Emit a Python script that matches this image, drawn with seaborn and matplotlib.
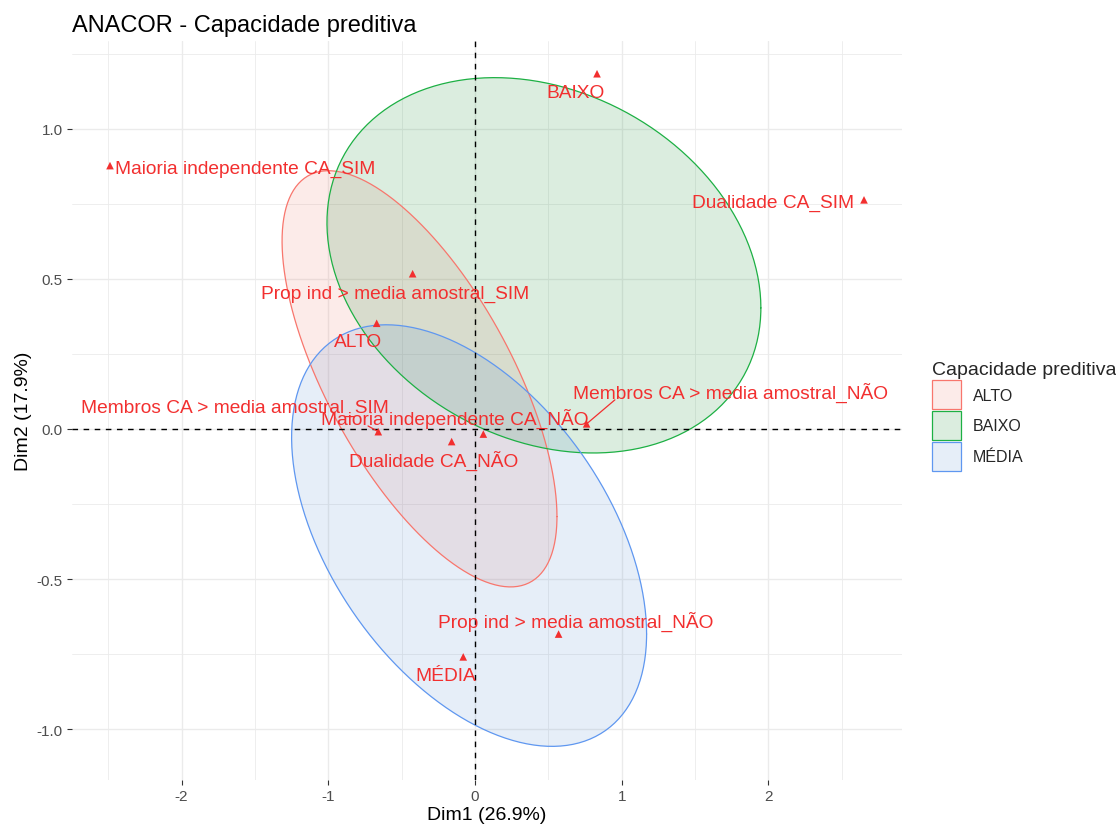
import numpy as np
import pandas as pd
import matplotlib
matplotlib.use("Agg")
import matplotlib.pyplot as plt
import seaborn as sns
from matplotlib.patches import Patch

# ---------------- data ----------------
title = "ANACOR - Capacidade preditiva"
x_label = "Dim1 (26.9%)"
y_label = "Dim2 (17.9%)"
legend_title = "Capacidade preditiva"

point_names = [
    "BAIXO",
    "Maioria independente CA_SIM",
    "Dualidade CA_SIM",
    "Prop ind > media amostral_SIM",
    "ALTO",
    "Membros CA > media amostral_NÃO",
    "Membros CA > media amostral_SIM",
    "Dualidade CA_NÃO",
    "Maioria independente CA_NÃO",
    "Prop ind > media amostral_NÃO",
    "MÉDIA",
]
dim1 = [0.832, -2.488, 2.652, -0.425, -0.670, 0.761, -0.659, -0.159, 0.057, 0.570, -0.080]
dim2 = [1.183, 0.877, 0.763, 0.517, 0.352, 0.017, -0.009, -0.042, -0.017, -0.683, -0.759]

groups = ["ALTO", "BAIXO", "MÉDIA"]
ell_center_x = [-0.378, 0.470, -0.040]
ell_center_y = [0.167, 0.545, -0.355]
ell_half_x = [0.937, 1.479, 1.210]
ell_half_y = [0.693, 0.625, 0.702]
ell_corr = [-0.662, -0.227, -0.467]

x_ticks = [-2, -1, 0, 1, 2]
y_ticks = [-1.0, -0.5, 0.0, 0.5, 1.0]
y_tick_labels = ["-1.0", "-0.5", "0.0", "0.5", "1.0"]

# ---------------- layout (label placement, repel-like) ----------------
label_offsets = {
    "BAIXO": (-0.145, -0.064),
    "Maioria independente CA_SIM": (0.924, -0.010),
    "Dualidade CA_SIM": (-0.617, -0.010),
    "Prop ind > media amostral_SIM": (-0.120, -0.064),
    "ALTO": (-0.128, -0.061),
    "Membros CA > media amostral_NÃO": (0.981, 0.106),
    "Membros CA > media amostral_SIM": (-0.977, 0.082),
    "Dualidade CA_NÃO": (-0.122, -0.061),
    "Maioria independente CA_NÃO": (-0.193, 0.054),
    "Prop ind > media amostral_NÃO": (0.115, 0.044),
    "MÉDIA": (-0.119, -0.063),
}
segment_offsets = {
    "Membros CA > media amostral_NÃO": (0.193, 0.080),
    "Membros CA > media amostral_SIM": (-0.070, 0.019),
}

edge_colors = ["#F8766D", "#1DB044", "#5F97F0"]
fill_colors = ["#EB7A6C", "#0F8A2E", "#588ED0"]
fill_alpha = 0.15
point_color = "#F22F2F"

# ---------------- figure ----------------
sns.set_theme(style="white")
plt.rcParams["font.family"] = ["Liberation Sans", "DejaVu Sans"]
plt.rcParams["axes.unicode_minus"] = False

fig = plt.figure(figsize=(11.16, 8.28), dpi=100)
ax = fig.add_axes([72 / 1116, 1 - 781 / 828, (902 - 72) / 1116, (781 - 42) / 828])

df = pd.DataFrame({"name": point_names, "Dim1": dim1, "Dim2": dim2})

# grid
ax.set_xticks(x_ticks)
ax.set_yticks(y_ticks)
ax.set_yticklabels(y_tick_labels)
ax.set_xticks([-2.5, -1.5, -0.5, 0.5, 1.5, 2.5], minor=True)
ax.set_yticks([-0.75, -0.25, 0.25, 0.75, 1.25], minor=True)
ax.grid(True, which="major", color="#EBEBEB", lw=1.0, zorder=0)
ax.grid(True, which="minor", color="#EBEBEB", lw=0.6, zorder=0)
ax.set_axisbelow(True)
for s in ax.spines.values():
    s.set_visible(False)

# ellipses
t = np.linspace(0, 2 * np.pi, 300)
for g, cx, cy, hx, hy, r, ec, fc in zip(groups, ell_center_x, ell_center_y,
                                        ell_half_x, ell_half_y, ell_corr,
                                        edge_colors, fill_colors):
    ex = cx + hx * np.cos(t)
    ey = cy + hy * np.cos(t - np.arccos(r))
    ax.fill(ex, ey, facecolor=fc, alpha=fill_alpha, edgecolor="none", zorder=1)
    ax.plot(ex, ey, color=ec, lw=0.9, zorder=2)

# reference lines
ax.axhline(0, color="black", lw=1.0, ls=(0, (4, 4)), zorder=3)
ax.axvline(0, color="black", lw=1.0, ls=(0, (4, 4)), zorder=3)

# points
sns.scatterplot(data=df, x="Dim1", y="Dim2", marker="^", s=30, color=point_color,
                edgecolor="none", ax=ax, zorder=4, legend=False)

# labels
for name, px, py in zip(point_names, dim1, dim2):
    dx, dy = label_offsets[name]
    if name in segment_offsets:
        sx, sy = segment_offsets[name]
        ax.plot([px, px + sx], [py, py + sy], color=point_color, lw=0.9, zorder=4)
    ax.text(px + dx, py + dy, name, color=point_color, fontsize=13.8,
            ha="center", va="center", zorder=5)

ax.set_xlim(-2.747, 2.911)
ax.set_ylim(-1.169, 1.292)

ax.tick_params(axis="both", which="major", length=3.6, width=0.8, color="#333333",
               labelcolor="#4D4D4D", labelsize=11, pad=3.2, bottom=True, left=True)
ax.tick_params(axis="both", which="minor", length=0)

ax.set_xlabel(x_label, fontsize=14, color="black", labelpad=2)
ax.set_ylabel(y_label, fontsize=14, color="black", labelpad=3)
ax.set_title(title, fontsize=17, loc="left", color="black", pad=7)

handles = [Patch(facecolor=matplotlib.colors.to_rgba(fc, fill_alpha), edgecolor=ec, lw=0.9)
           for ec, fc in zip(edge_colors, fill_colors)]
leg = fig.legend(handles, groups, title=legend_title, loc="upper left",
                 bbox_to_anchor=(926 / 1116, 1 - 356 / 828), frameon=False,
                 fontsize=11.5, title_fontsize=14, handlelength=1.8, handleheight=2.4,
                 labelspacing=0.12, handletextpad=0.75, borderaxespad=0)
leg._legend_box.align = "left"

fig.savefig("out.png", dpi=100)
